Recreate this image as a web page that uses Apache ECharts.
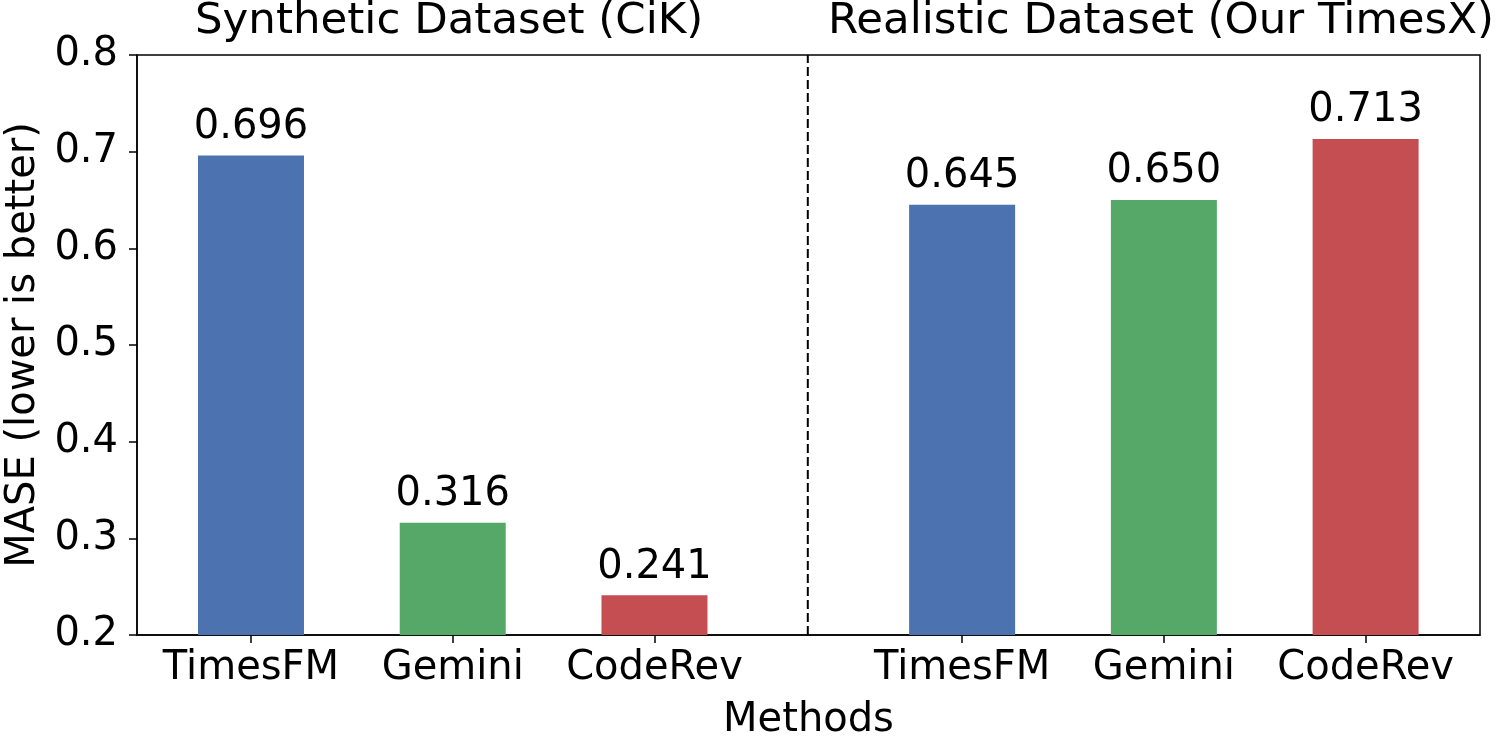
<!DOCTYPE html>
<html>
<head>
<meta charset="utf-8">
<script src="https://cdn.jsdelivr.net/npm/echarts@6/dist/echarts.min.js"></script>
<style>
  html, body { margin: 0; padding: 0; background: #fff; }
  #chart { width: 1500px; height: 739px; }
</style>
</head>
<body>
<div id="chart"></div>
<script>
// bar positions on the x axis (two groups with a gap between them)
const methods = ['TimesFM', 'Gemini', 'CodeRev', 'TimesFM', 'Gemini', 'CodeRev'];
const positions = [0, 1, 2, 3.525, 4.525, 5.525];
const mase = [0.696, 0.316, 0.241, 0.645, 0.650, 0.713];
const colors = ['#4c72b0', '#55a868', '#c44e52', '#4c72b0', '#55a868', '#c44e52'];
const groupTitles = ['Synthetic Dataset (CiK)', 'Realistic Dataset (Our TimesX)'];
const dividerAt = 2.76;
const yRange = [0.2, 0.8];

const font = 'DejaVu Sans';
const chart = echarts.init(document.getElementById('chart'));

function nameAt(v) {
	for (let i = 0; i < positions.length; i++) {
		if (Math.abs(positions[i] - v) < 1e-6) return methods[i];
	}
	return '';
}

const option = {
	animation: false,
	grid: {
		left: 137, right: 20, top: 55, bottom: 104,
		outerBoundsMode: 'none',
		show: true, borderColor: '#000', borderWidth: 1.5
	},
	xAxis: {
		type: 'value',
		min: -0.565,
		max: 6.092,
		name: 'Methods',
		nameLocation: 'middle',
		nameGap: 66,
		nameTextStyle: { fontFamily: font, fontSize: 40, color: '#000' },
		axisLine: { show: true, onZero: false, lineStyle: { color: '#000', width: 1.5 } },
		axisTick: { show: true, customValues: positions, length: 8, lineStyle: { color: '#000', width: 1.5 } },
		axisLabel: {
			customValues: positions,
			formatter: nameAt,
			fontFamily: font, fontSize: 40, color: '#000', margin: 14
		},
		splitLine: { show: false }
	},
	yAxis: {
		type: 'value',
		min: yRange[0],
		max: yRange[1],
		interval: 0.1,
		name: 'MASE (lower is better)',
		nameLocation: 'middle',
		nameRotate: 90,
		nameGap: 92,
		nameTextStyle: { fontFamily: font, fontSize: 40, color: '#000' },
		axisLine: { show: true, onZero: false, lineStyle: { color: '#000', width: 1.5 } },
		axisTick: { show: true, length: 8, lineStyle: { color: '#000', width: 1.5 } },
		axisLabel: {
			formatter: v => v.toFixed(1),
			fontFamily: font, fontSize: 40, color: '#000', margin: 19
		},
		splitLine: { show: false }
	},
	graphic: [
		{
			type: 'text', left: 451 - 256, top: 0,
			style: { text: groupTitles[0], font: '43.5px "DejaVu Sans"', fill: '#000' }
		},
		{
			type: 'text', left: 1160 - 332, top: 0,
			style: { text: groupTitles[1], font: '43.5px "DejaVu Sans"', fill: '#000' }
		}
	],
	series: [
		{
			type: 'bar',
			barWidth: 106,
			data: positions.map((x, i) => ({
				value: [x, mase[i]],
				itemStyle: { color: colors[i] }
			})),
			label: {
				show: true,
				position: 'top',
				distance: 8,
				formatter: p => p.value[1].toFixed(3),
				fontFamily: font, fontSize: 40, color: '#000'
			}
		},
		{
			// dashed divider between the two datasets
			type: 'line',
			silent: true,
			symbol: 'none',
			lineStyle: { color: '#000', type: [9, 4], width: 2 },
			data: [[dividerAt, yRange[0]], [dividerAt, yRange[1]]]
		}
	]
};
chart.setOption(option);
</script>
</body>
</html>
